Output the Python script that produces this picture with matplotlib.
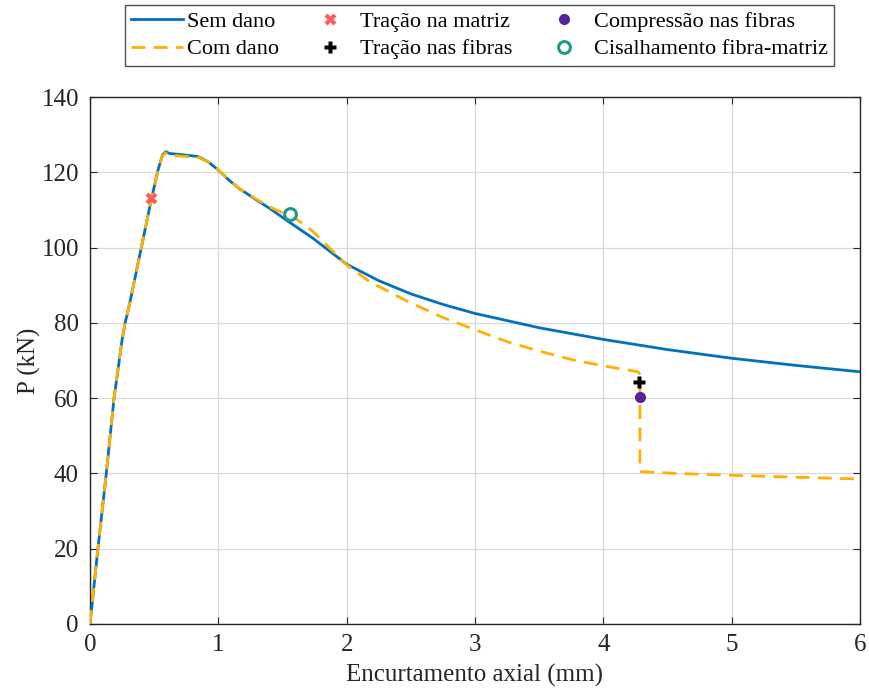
import matplotlib
matplotlib.use('Agg')
import matplotlib.pyplot as plt

plt.rcParams['font.family'] = ['Liberation Serif', 'DejaVu Serif']

# curva sem dano
x_sem = [0, 0.062, 0.127, 0.187, 0.23, 0.25, 0.275, 0.30, 0.33, 0.40, 0.48, 0.53, 0.565, 0.59,
         0.62, 0.71, 0.84, 0.92, 1.0, 1.08, 1.17, 1.30, 1.40, 1.53, 1.74, 1.85, 2.0, 2.25,
         2.5, 2.75, 3.0, 3.5, 4.0, 4.5, 5.0, 5.5, 6.0]
p_sem = [0, 20.1, 40.0, 59.9, 70.5, 75.5, 80.2, 83.8, 88.5, 100.0, 113.1, 120.6, 124.6, 125.5,
         125.0, 124.7, 124.2, 122.8, 120.6, 118.0, 115.5, 112.6, 110.4, 107.3, 102.4, 99.5, 95.6, 91.2,
         87.7, 84.9, 82.5, 78.7, 75.6, 72.9, 70.6, 68.7, 67.0]

# curva com dano
x_com = [0, 0.062, 0.127, 0.187, 0.23, 0.25, 0.275, 0.30, 0.33, 0.40, 0.48, 0.53, 0.565, 0.59,
         0.62, 0.71, 0.84, 0.92, 1.0, 1.08, 1.17, 1.30, 1.40, 1.50, 1.58, 1.74, 2.0,
         2.18, 2.47, 2.73, 2.99, 3.25, 3.51, 3.77, 4.03, 4.27, 4.285, 4.285, 4.57, 5.0, 5.5, 6.0]
p_com = [0, 20.1, 40.0, 59.9, 70.5, 75.5, 80.2, 83.8, 88.5, 100.0, 113.1, 120.6, 124.4, 125.2,
         124.6, 124.3, 124.0, 122.8, 120.6, 118.0, 115.5, 112.8, 110.8, 109.3, 108.3, 104.2, 95.4,
         90.9, 85.8, 81.7, 78.3, 75.0, 72.4, 70.1, 68.4, 67.0, 66.3, 40.5, 40.0, 39.5, 39.0, 38.5]

# pontos de dano
tr_matriz = (0.475, 113.1)
tr_fibras = (4.28, 64.2)
comp_fibras = (4.285, 60.2)
cisalhamento = (1.558, 108.9)

fig = plt.figure(figsize=(8.69, 6.95), dpi=100)
ax = fig.add_axes([90/869, 1-624/695, 770/869, 527/695])

l1, = ax.plot(x_sem, p_sem, color='#0072BD', lw=2.0, label='Sem dano', zorder=3)
l2, = ax.plot(x_com, p_com, color='#FFB000', lw=2.0, ls=(0, (5, 3)), label='Com dano', zorder=4)
m1, = ax.plot(*tr_matriz, 'X', color='#FF5C5C', ms=8, mec='none', label='Tração na matriz', zorder=5)
m2, = ax.plot(*tr_fibras, 'P', color='black', ms=8, mec='none', label='Tração nas fibras', zorder=5)
m3, = ax.plot(*comp_fibras, 'o', color='#5B1F9A', ms=8, mec='none', label='Compressão nas fibras', zorder=5)
m4, = ax.plot(*cisalhamento, 'o', mfc='white', mec='#1E9985', mew=2.2, ms=8.5, label='Cisalhamento fibra-matriz', zorder=5)

ax.set_xlim(0, 6)
ax.set_ylim(0, 140)
ax.set_xticks(range(0, 7))
ax.set_yticks(range(0, 141, 20))
ax.grid(True, color='#DADADA', lw=0.9)
ax.set_axisbelow(True)
ax.tick_params(direction='in', length=5, top=True, right=True, labelsize=18, colors='#262626')
ax.tick_params(axis='x', pad=7)
ax.tick_params(axis='y', pad=8)
for s in ax.spines.values():
    s.set_color('#262626')
    s.set_linewidth(1.0)
ax.set_xlabel('Encurtamento axial (mm)', fontsize=18, color='#262626', labelpad=6)
ax.set_ylabel('P (kN)', fontsize=18, color='#262626', labelpad=0)

leg = fig.legend(handles=[l1, l2, m1, m2, m3, m4], loc='upper center',
                 bbox_to_anchor=(479.5/869, 1-5/695), ncol=3, fontsize=16,
                 frameon=True, fancybox=False, edgecolor='#262626',
                 handlelength=2.3, handletextpad=0.2, columnspacing=1.15,
                 borderpad=0.3, labelspacing=0.3, borderaxespad=0)
leg.get_frame().set_linewidth(1.0)

fig.savefig('out.png', dpi=100)
